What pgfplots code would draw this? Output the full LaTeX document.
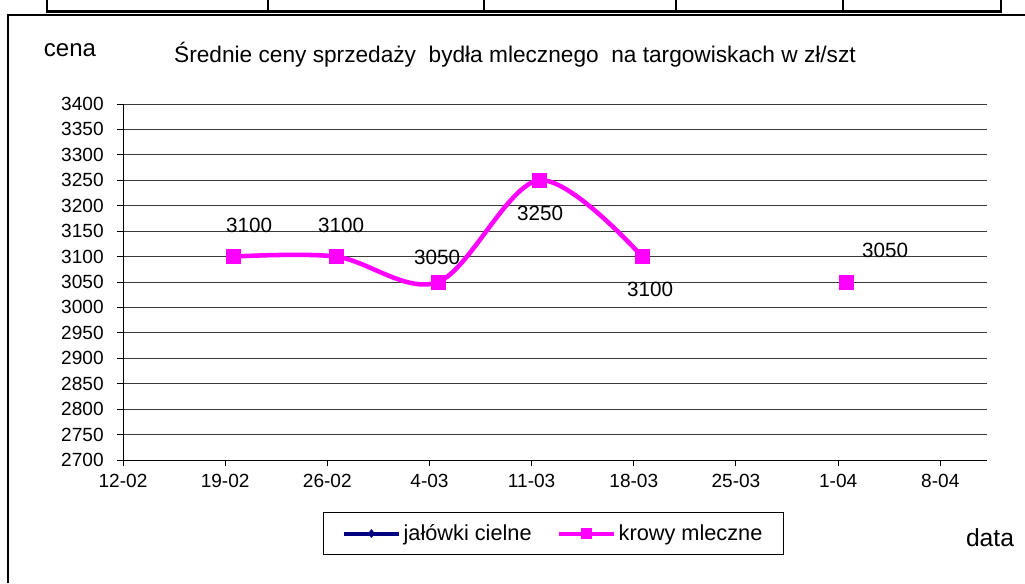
\documentclass[border=0pt]{standalone}
\usepackage{pgfplots}
\pgfplotsset{compat=1.18}
\usepackage{fontspec}
\setmainfont{Liberation Sans}
\definecolor{mag}{HTML}{FF00FF}
\definecolor{nav}{HTML}{000080}
\definecolor{gridc}{HTML}{3A3A3A}
\pgfplotstableread{
x y
7.54 3100
14.6 3100
21.59 3050
28.51 3250
35.57 3100
}\krowy
\pgfplotstableread{
x y
49.55 3050
}\krowyb
\pgfplotstableread{
x y dx dy lbl
7.54 3100 16 31 3100
14.6 3100 5 31 3100
21.59 3050 -1 25 3050
28.51 3250 1 -33 3250
35.57 3100 8 -33 3100
49.55 3050 39 32 3050
}\labels
\begin{document}
\begin{tikzpicture}[x=0.75pt,y=0.75pt]
\useasboundingbox (0,0) rectangle (1025,583);
% fragment of table above
\draw[line width=2.2pt] (46,571.5) -- (1002,571.5);
\foreach \xx in {47,268,484,676,843,1001} \draw[line width=1.6pt] (\xx,583) -- (\xx,571);
% chart frame
\draw[line width=0.9pt] (8,0) -- (8,568) -- (1025,568);
\node[font=\fontsize{18}{20}\selectfont] at (70,533) {cena};
\node[font=\fontsize{17}{19}\selectfont] at (515,528) {Średnie ceny sprzedaży\ \ bydła mlecznego\ \ na targowiskach w zł/szt};
\node[font=\fontsize{18.5}{20}\selectfont] at (990,45) {data};
\begin{axis}[
  at={(92.25pt,92.25pt)}, anchor=south west,
  scale only axis, width=648pt, height=267pt,
  xmin=0, xmax=59.2, ymin=2700, ymax=3400,
  ytick distance=50,
  xtick={0,7,14,21,28,35,42,49,56},
  xticklabels={12-02,19-02,26-02,4-03,11-03,18-03,25-03,1-04,8-04},
  axis x line*=bottom, axis y line*=left,
  axis line style={-, black, line width=0.75pt},
  ymajorgrids, grid style={gridc, line width=0.75pt},
  tick align=outside, major tick length=4.5pt,
  tick style={black, line width=0.75pt},
  /pgf/number format/assume math mode=true,
  /pgf/number format/1000 sep={},
  ticklabel style={font=\fontsize{14.3}{16}\selectfont},
  yticklabel style={xshift=-6.5pt},
  xticklabel style={yshift=-2.5pt},
  clip=false,
  legend columns=2,
  legend style={at={(0.4983,-0.2065)}, anchor=center, draw=black, line width=0.75pt,
    font=\fontsize{16.3}{18}\selectfont, inner xsep=14pt, inner ysep=7pt,
    /tikz/every even column/.append style={column sep=17pt}},
  legend cell align=left,
  legend image code/.code={\draw[mark repeat=2,mark phase=2,#1] plot coordinates {(0pt,0pt) (20.6pt,0pt) (41.25pt,0pt)};},
]
\addlegendimage{nav, line width=3pt, mark=diamond*, mark size=3pt, mark options={line width=0.4pt}}
\addlegendentry{jałówki cielne}
\addlegendimage{mag, line width=3pt, mark=square*, mark size=3.6pt, mark options={line width=0.4pt}}
\addlegendentry{krowy mleczne}
\addplot[mag, line width=3.4pt, smooth, tension=0.55, mark=square*, mark size=5.2pt, mark options={line width=0.4pt}, forget plot] table {\krowy};
\addplot[mag, only marks, mark=square*, mark size=5.2pt, mark options={line width=0.4pt}, forget plot] table {\krowyb};
\addplot[draw=none, mark=none, forget plot, nodes near coords, point meta=explicit symbolic,
  visualization depends on={\thisrow{dx} \as \dx},
  visualization depends on={\thisrow{dy} \as \dy},
  nodes near coords style={anchor=center, inner sep=0pt, xshift=\dx*0.75pt, yshift=\dy*0.75pt,
    font=\fontsize{15.5}{17}\selectfont, text=black}]
  table[meta=lbl] {\labels};
\end{axis}
\end{tikzpicture}
\end{document}
